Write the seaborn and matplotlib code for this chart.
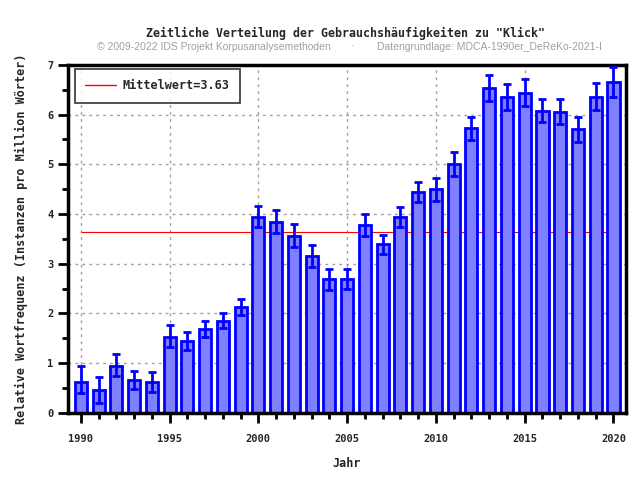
import matplotlib
matplotlib.use("Agg")
import matplotlib.pyplot as plt
from matplotlib.ticker import MultipleLocator
import seaborn as sns
import pandas as pd

years = list(range(1990, 2021))
values = [0.62, 0.46, 0.95, 0.66, 0.62, 1.53, 1.45, 1.69, 1.85, 2.13,
          3.94, 3.84, 3.55, 3.15, 2.69, 2.69, 3.78, 3.39, 3.94, 4.45,
          4.50, 5.00, 5.72, 6.53, 6.35, 6.44, 6.08, 6.06, 5.71, 6.36, 6.65]
err_hi = [0.95, 0.73, 1.18, 0.85, 0.82, 1.77, 1.63, 1.85, 2.01, 2.28,
          4.16, 4.07, 3.79, 3.37, 2.89, 2.89, 3.99, 3.58, 4.14, 4.65,
          4.73, 5.24, 5.96, 6.79, 6.61, 6.71, 6.32, 6.32, 5.94, 6.63, 6.96]
err_lo = [0.40, 0.20, 0.75, 0.48, 0.42, 1.33, 1.27, 1.52, 1.70, 1.97,
          3.73, 3.61, 3.33, 2.94, 2.48, 2.50, 3.56, 3.20, 3.74, 4.25,
          4.27, 4.77, 5.49, 6.28, 6.10, 6.18, 5.84, 5.81, 5.45, 6.10, 6.36]
mean_value = 3.63

df = pd.DataFrame({"Jahr": years, "Wert": values})

sns.set_style("white")
mono = ["DejaVu Sans Mono"]

fig = plt.figure(figsize=(6.4, 4.8), dpi=100)
ax = fig.add_axes([0.106, 0.140, 0.872, 0.725])

ax.grid(True, which="major", color="#a0a0a0", linestyle=(0, (2, 3)), linewidth=1)
ax.set_axisbelow(True)

ax.hlines(mean_value, years[0], years[-1], color="red", linewidth=0.8, zorder=1)
mline, = ax.plot([], [], color="red", linewidth=1,
                 label=f"Mittelwert={mean_value:.2f}")

sns.barplot(data=df, x="Jahr", y="Wert", native_scale=True, ax=ax,
            color="#8080ff", edgecolor="#0000ff", linewidth=2, width=0.68,
            saturation=1, errorbar=None, zorder=2)

yerr = [[v - lo for v, lo in zip(values, err_lo)],
        [hi - v for v, hi in zip(values, err_hi)]]
ax.errorbar(years, values, yerr=yerr, fmt="none", ecolor="#0000ff",
            elinewidth=2, capsize=2.7, capthick=2, zorder=3)

ax.set_xlim(1989.27, 2020.7)
ax.set_ylim(0, 7)
ax.xaxis.set_major_locator(MultipleLocator(5))
ax.xaxis.set_minor_locator(MultipleLocator(1))
ax.yaxis.set_major_locator(MultipleLocator(1))
ax.yaxis.set_minor_locator(MultipleLocator(0.5))
ax.tick_params(which="major", direction="out", length=7, width=2, color="black",
               bottom=True, left=True)
ax.tick_params(axis="x", which="major", pad=8)
ax.tick_params(which="minor", direction="out", length=4, width=2, color="black",
               bottom=True, left=True)

for s in ax.spines.values():
    s.set_visible(True)
    s.set_color("black")
    s.set_linewidth(2.5)

for lab in ax.get_xticklabels() + ax.get_yticklabels():
    lab.set_fontfamily(mono)
    lab.set_fontweight("bold")
    lab.set_fontsize(7.5)

ax.set_xlabel("Jahr", fontfamily=mono, fontweight="bold", fontsize=8.5, labelpad=9.5)
ax.set_ylabel("Relative Wortfrequenz (Instanzen pro Million Wörter)",
              fontfamily=mono, fontweight="bold", fontsize=8.5, labelpad=14)

leg = ax.legend(handles=[mline], loc="upper left", frameon=True, fancybox=False,
                prop={"family": mono, "weight": "bold", "size": 8.5},
                borderpad=0.9, handlelength=2.6, handletextpad=0.5,
                bbox_to_anchor=(0.0126, 0.9885), borderaxespad=0)
leg.get_frame().set_edgecolor("black")
leg.get_frame().set_linewidth(1.2)

fig.text(0.54, 0.931, 'Zeitliche Verteilung der Gebrauchshäufigkeiten zu "Klick"',
         ha="center", va="center", fontfamily=mono, fontweight="bold", fontsize=8.4)
sub_kw = dict(va="center", fontfamily=["Liberation Sans"], fontsize=7.5, color="#a0a0a0")
fig.text(331 / 640, 0.903, "© 2009-2022 IDS Projekt Korpusanalysemethoden", ha="right", **sub_kw)
fig.text(352 / 640, 0.903, "·", ha="center", **sub_kw)
fig.text(377 / 640, 0.903, "Datengrundlage: MDCA-1990er_DeReKo-2021-I", ha="left", **sub_kw)

fig.savefig("out.png", dpi=100)
